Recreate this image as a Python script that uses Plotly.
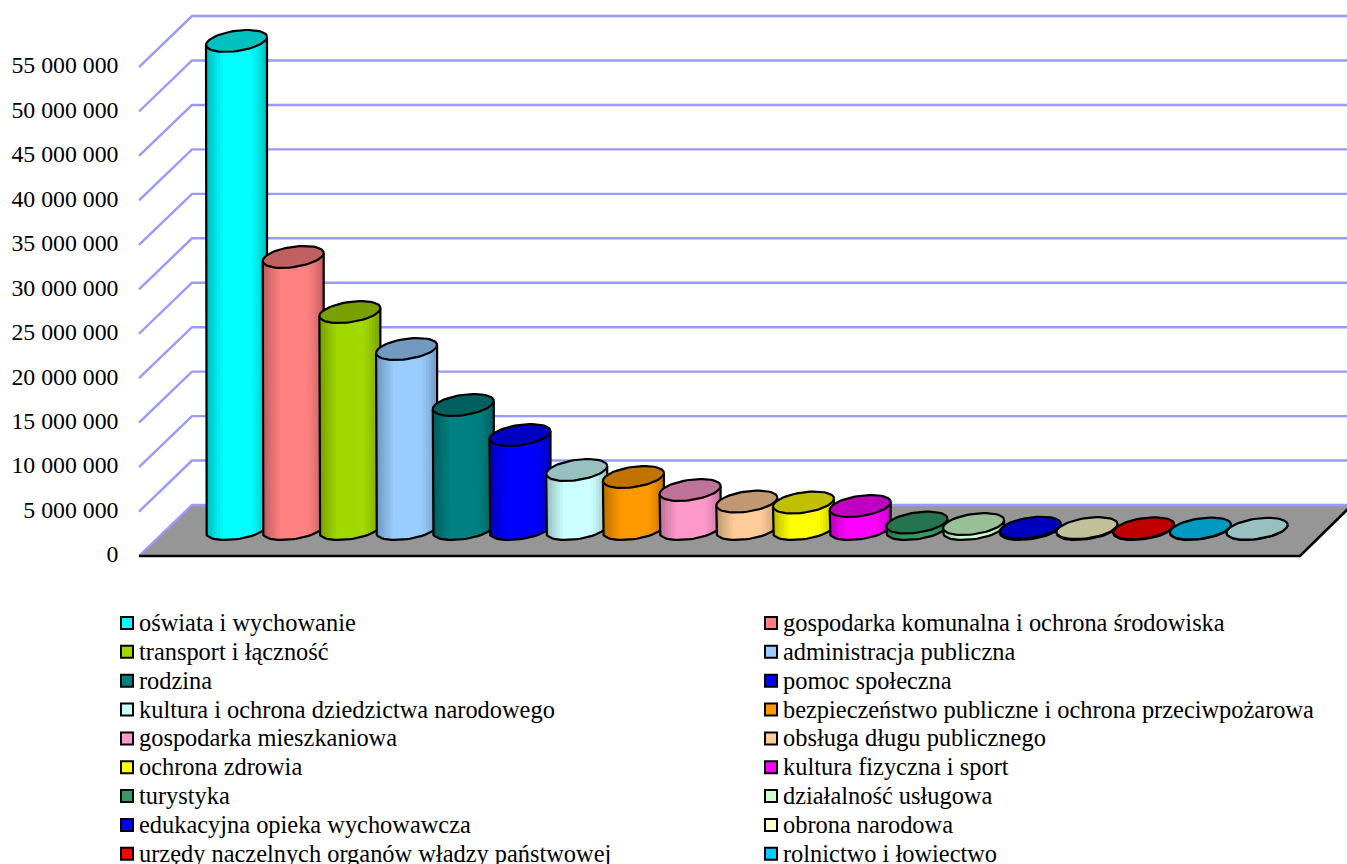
import math
import plotly.graph_objects as go

# ---------- data ----------
categories = [
    "oświata i wychowanie", "gospodarka komunalna i ochrona środowiska",
    "transport i łączność", "administracja publiczna",
    "rodzina", "pomoc społeczna",
    "kultura i ochrona dziedzictwa narodowego", "bezpieczeństwo publiczne i ochrona przeciwpożarowa",
    "gospodarka mieszkaniowa", "obsługa długu publicznego",
    "ochrona zdrowia", "kultura fizyczna i sport",
    "turystyka", "działalność usługowa",
    "edukacyjna opieka wychowawcza", "obrona narodowa",
    "urzędy naczelnych organów władzy państwowej", "rolnictwo i łowiectwo",
]
values = [54900000, 30600000, 24400000, 20250000, 13950000, 10570000, 6640000, 5850000,
          4390000, 3090000, 2980000, 2590000, 730000, 560000, 150000, 100000, 80000, 50000, 30000]
side_colors = ["#00FFFF", "#FF8080", "#A0D800", "#99CCFF", "#008080", "#0000FF", "#CCFFFF", "#FF9900",
               "#FF99CC", "#FFCC99", "#FFFF00", "#FF00FF", "#339966", "#CCFFCC", "#0000FF", "#FFFFCC",
               "#FF0000", "#00CCFF", "#CCFFFF"]
top_colors = ["#00C0C0", "#C06060", "#78A000", "#7399C0", "#006060", "#0000C0", "#99C0C0", "#C07300",
              "#C07399", "#C09973", "#C0C000", "#C000C0", "#267350", "#99C099", "#0000C0", "#C0C099",
              "#C00000", "#0099C0", "#99C0C0"]
tick_values = [0, 5000000, 10000000, 15000000, 20000000, 25000000, 30000000,
               35000000, 40000000, 45000000, 50000000, 55000000]
tick_labels = ["0", "5 000 000", "10 000 000", "15 000 000", "20 000 000", "25 000 000", "30 000 000",
               "35 000 000", "40 000 000", "45 000 000", "50 000 000", "55 000 000"]

# ---------- layout geometry ----------
W, H = 1347, 864
Y0 = 554                    # page row of the value-axis zero label
S = 5000000 / 44.45         # value units per pixel
BACK, FRONT, BASE = 49 * S, -2 * S, 25 * S   # lifts of back wall, front edge, cylinder base
X_FRONT, X_BACK, X_END = 139, 192, 1300
DEPTH = 52
GRID = "#9999FF"
FLOOR = "#969696"
FONT = "Liberation Serif"
A, B, TILT = 30.5, 10.2, 4.0
X_FIRST, STEP = 236.5, 56.7
STRIPS = 22

fig = go.Figure()


def poly(xs, ys, fill=None, line=None, lw=0.0):
    fig.add_trace(go.Scatter(
        x=xs, y=ys, mode="lines", showlegend=False, hoverinfo="skip",
        fill="toself" if fill else "none", fillcolor=fill,
        line=dict(color=line or "rgba(0,0,0,0)", width=lw),
    ))


def shade(hexcolor, f):
    r, g, b = (int(hexcolor[i:i + 2], 16) for i in (1, 3, 5))
    return f"rgb({round(r * f)},{round(g * f)},{round(b * f)})"


def factor(t):
    if t < 0.3:
        return 0.70 + 0.30 * (t / 0.3) ** 0.8
    if t > 0.72:
        return 1.0 - 0.26 * ((t - 0.72) / 0.28) ** 1.3
    return 1.0


# floor and grid
poly([X_FRONT, X_BACK, X_END + DEPTH, X_END, X_FRONT],
     [FRONT, BACK, BACK, FRONT, FRONT], fill=FLOOR)
for v in tick_values:
    poly([X_FRONT, X_BACK, W + 10], [v + FRONT, v + BACK, v + BACK], line=GRID, lw=2.4)
poly([X_FRONT, X_END, X_END + DEPTH], [FRONT, FRONT, BACK], line="#000000", lw=2.6)

# cylinders, left to right so that later ones overlap earlier ones
for i, v in enumerate(values):
    cx = X_FIRST + i * STEP
    top = v + BASE

    def edge(t, centre):
        return cx + A * math.cos(t), centre + (TILT * math.cos(t) - B * math.sin(t)) * S

    # shaded side: each strip runs to the right edge, so no seams show between strips
    for k in range(STRIPS):
        frac = k / STRIPS
        x_left = cx - A + 2 * A * frac
        t0 = math.acos(max(-1, min(1, (x_left - cx) / A)))
        ts = [t0 * (1 - j / 14) for j in range(15)]
        low = [edge(t, BASE) for t in ts]
        xs = [x_left] + [p[0] for p in low] + [cx + A, x_left]
        ys = [top + (TILT * (x_left - cx) / A) * S] + [p[1] for p in low] + \
             [top + TILT * S, top + (TILT * (x_left - cx) / A) * S]
        poly(xs, ys, fill=shade(side_colors[i], factor(frac + 0.5 / STRIPS)))

    # outline of the side
    ts = [math.pi * (1 - j / 30) for j in range(31)]
    low = [edge(t, BASE) for t in ts]
    poly([cx - A] + [p[0] for p in low] + [cx + A],
         [top - TILT * S] + [p[1] for p in low] + [top + TILT * S], line="#000000", lw=2.2)

    # top ellipse
    ts = [2 * math.pi * j / 60 for j in range(61)]
    ring = [edge(t, top) for t in ts]
    poly([p[0] for p in ring], [p[1] for p in ring], fill=top_colors[i], line="#000000", lw=2.2)

# legend, drawn as swatches and labels in two columns
COLS = (127, 771)
ROW0, ROW_STEP = 623, 28.85
leg_x, leg_y, txt_y, leg_col, txt_x = [], [], [], [], []
for i, name in enumerate(categories):
    col = i % 2
    row = i // 2
    leg_x.append(COLS[col])
    leg_y.append((Y0 - (ROW0 + row * ROW_STEP)) * S)
    txt_y.append((Y0 - (ROW0 + 2 + row * ROW_STEP)) * S)
    leg_col.append(side_colors[i])
    txt_x.append(COLS[col] + 12)
fig.add_trace(go.Scatter(
    x=leg_x, y=leg_y, mode="markers", showlegend=False, hoverinfo="skip",
    marker=dict(symbol="square", size=12, color=leg_col, line=dict(color="#000000", width=2)),
))
fig.add_trace(go.Scatter(
    x=txt_x, y=txt_y, mode="text", text=categories, textposition="middle right",
    showlegend=False, hoverinfo="skip",
    textfont=dict(family=FONT, size=24.4, color="#000000"),
))

fig.update_layout(
    width=W, height=H, margin=dict(l=0, r=0, t=0, b=0),
    paper_bgcolor="#FFFFFF", plot_bgcolor="#FFFFFF", showlegend=False,
    xaxis=dict(range=[0, W], visible=False, domain=[0, 1]),
    yaxis=dict(
        range=[(Y0 - H) * S, Y0 * S], domain=[0, 1], anchor="free", position=118.5 / W,
        tickmode="array", tickvals=tick_values, ticktext=tick_labels, ticks="",
        showgrid=False, zeroline=False, showline=False,
        tickfont=dict(family=FONT, size=23.8, color="#000000"),
    ),
)
fig.write_html("out.html", config={"displayModeBar": False},
               post_script="document.body.style.margin='0';document.body.style.overflow='hidden';")
